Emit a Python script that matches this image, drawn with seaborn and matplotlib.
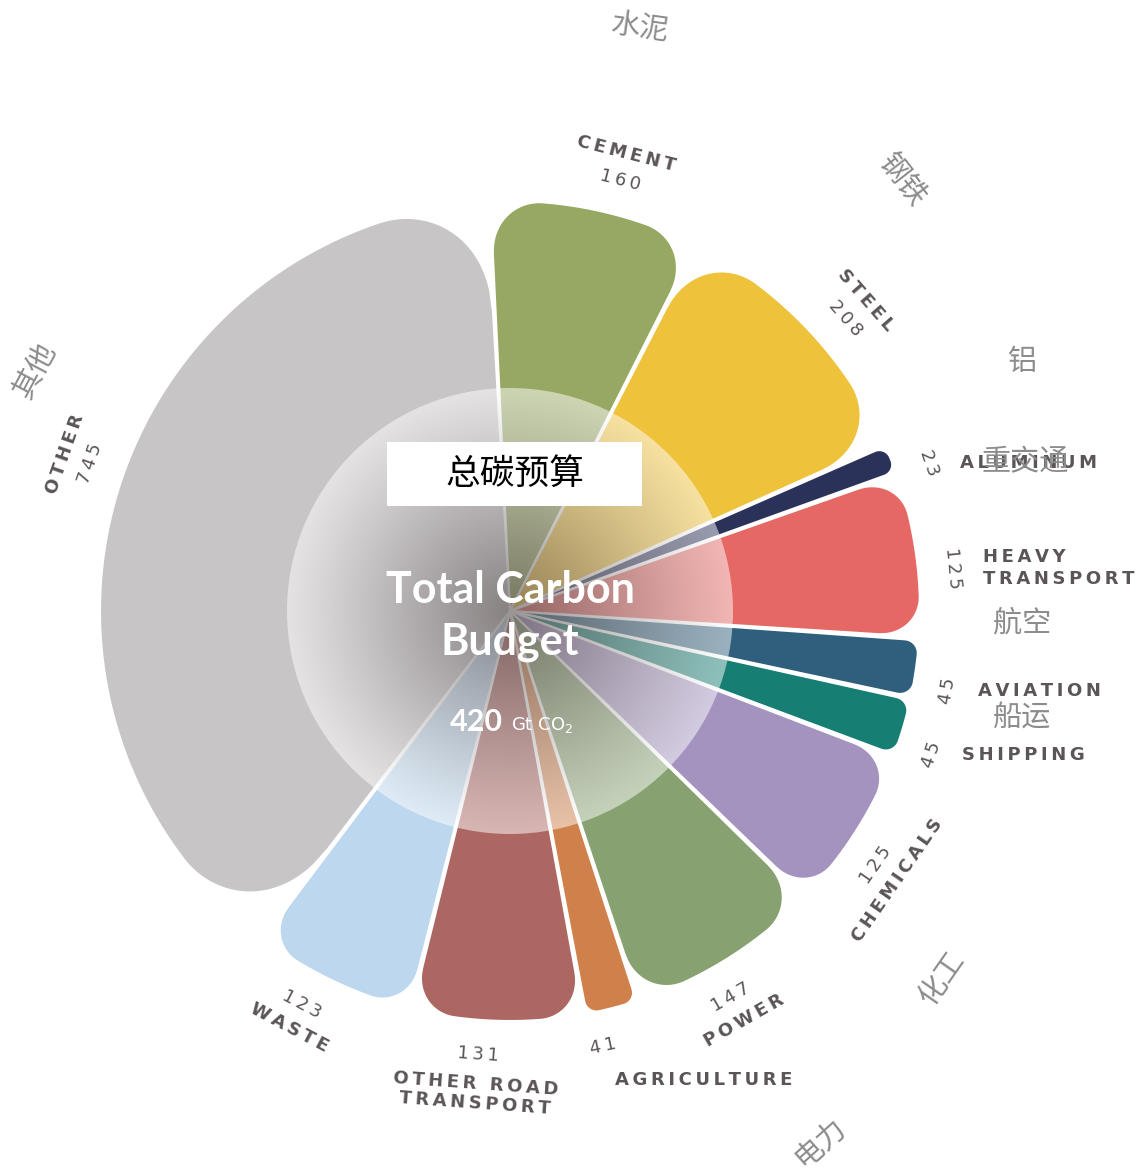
import numpy as np
import matplotlib
matplotlib.use('Agg')
from matplotlib import pyplot as plt
from matplotlib.patches import Circle, Rectangle
import seaborn as sns

sns.set_style('white')
plt.rcParams['font.family'] = ['DejaVu Sans', 'Noto Sans CJK SC']

# cumulative emissions by sector, Gt CO2 (clockwise from the top)
sectors = ['CEMENT', 'STEEL', 'ALUMINUM', 'HEAVY\nTRANSPORT', 'AVIATION', 'SHIPPING',
           'CHEMICALS', 'POWER', 'AGRICULTURE', 'OTHER ROAD\nTRANSPORT', 'WASTE', 'OTHER']
values = [160, 208, 23, 125, 45, 45, 125, 147, 41, 131, 123, 745]
colors = ['#97a862', '#efc23b', '#2b3259', '#e56864', '#2f5f7c', '#167e73',
          '#a493bf', '#87a170', '#d0804a', '#ad6763', '#bcd7ee', '#c8c5c7']
label_style = ['tangent', 'tangent', 'side', 'side', 'side', 'side',
               'tangent', 'tangent', 'below', 'tangent', 'tangent', 'tangent']
budget = 420

# chinese captions laid over the chart (offset from centre in px, rotation)
cn_labels = ['水泥', '钢铁', '铝', '重交通', '航空', '船运', '化工', '电力', '其他']
cn_pos = [(130, 583, -8), (392, 431, -52), (512, 249, 0), (515, 149, 0), (512, -12, 0),
          (512, -107, 0), (432, -367, 55), (310, -532, 42), (-475, 241, 62)]

START = 93.0
R = 410
palette = sns.color_palette(colors)


def spaced(s):
    return '\n'.join('\u2009'.join(line) for line in s.split('\n'))


def petal(a_start, a_end, gap=0.5):
    a0 = np.radians(a_start - gap / 2)
    a1 = np.radians(a_end + gap / 2)
    w = (a0 - a1) * R
    rho = min(np.clip(0.25 * w, 12, 110), w / 2)
    th = np.linspace(a0, a1, 500)
    d = np.minimum(a0 - th, th - a1) * R
    r = np.where(d < rho, R - rho + np.sqrt(np.clip(rho ** 2 - (rho - d) ** 2, 0, None)), R)
    x = np.concatenate([[0], r * np.cos(th), [0]])
    y = np.concatenate([[0], r * np.sin(th), [0]])
    return x, y


fig = plt.figure(figsize=(11.43, 11.76), dpi=100)
ax = fig.add_axes([0, 0, 1, 1])
ax.set_xlim(-510, 633)
ax.set_ylim(-565, 611)
ax.set_aspect('equal')
ax.axis('off')

deg = 360.0 / sum(values)
edges = START - np.concatenate([[0], np.cumsum(values)]) * deg
mids = (edges[:-1] + edges[1:]) / 2
mids = (mids + 180) % 360 - 180

for i, v in enumerate(values):
    x, y = petal(edges[i], edges[i + 1])
    ax.fill(x, y, color=palette[i], ec='white', lw=1.5, zorder=2)

# translucent centre disc with a dark radial shade
n = 500
g = np.linspace(-1, 1, n)
X, Y = np.meshgrid(g, g)
t = np.clip(np.sqrt(X ** 2 + Y ** 2), 0, 1)
mix = t ** 1.2
dark = np.array([0.42, 0.39, 0.39])
rgb = dark[None, None, :] * (1 - mix[..., None]) + mix[..., None]
alpha = 0.68 - 0.16 * t
img = np.dstack([rgb, alpha])
rc = 223
im = ax.imshow(img, extent=[-rc, rc, -rc, rc], origin='lower', zorder=3, interpolation='bilinear')
im.set_clip_path(Circle((0, 0), rc, transform=ax.transData))

ax.text(0, 21, 'Total Carbon', ha='center', va='center', color='white', fontsize=31,
        family='Lato', weight='bold', zorder=5)
ax.text(0, -31, 'Budget', ha='center', va='center', color='white', fontsize=31,
        family='Lato', weight='bold', zorder=5)
ax.text(-7, -111, str(budget), ha='right', va='center', color='white', fontsize=22,
        family='Lato', weight='bold', zorder=5)
ax.text(1, -114, 'Gt CO$_2$', ha='left', va='center', color='white', fontsize=13,
        zorder=5)

ax.add_patch(Rectangle((-123, 105), 255, 64, fc='white', ec='none', zorder=6))
ax.text(5, 137, '总碳预算', ha='center', va='center', color='black', fontsize=25,
        family=['Noto Sans CJK SC', 'DejaVu Sans'], zorder=7)

gray = '#5b5557'
for i, (name, v) in enumerate(zip(sectors, values)):
    a = mids[i] - 2.3
    rad = np.radians(a)
    rot = a - 90 if a > 0 else a + 90
    vx, vy = 445 * np.cos(rad), 445 * np.sin(rad)
    ax.text(vx, vy, spaced(str(v)), ha='center', va='center', rotation=rot,
            rotation_mode='anchor', color=gray, fontsize=13, zorder=5)
    if label_style[i] == 'tangent':
        rn = 472 + 12 * name.count('\n')
        ax.text(rn * np.cos(rad), rn * np.sin(rad), spaced(name), ha='center', va='center',
                rotation=rot, rotation_mode='anchor', color=gray, fontsize=13,
                weight='bold', linespacing=1.1, zorder=5)
    elif label_style[i] == 'side':
        ax.annotate(spaced(name), (vx, vy), xytext=(22, 0), textcoords='offset points',
                    ha='left', va='center', color=gray, fontsize=13, weight='bold',
                    linespacing=1.3, zorder=5)
    else:
        ax.annotate(spaced(name), (vx, vy), xytext=(9, -24), textcoords='offset points',
                    ha='left', va='center', color=gray, fontsize=13, weight='bold', zorder=5)

for txt, (dx, dy, rot) in zip(cn_labels, cn_pos):
    ax.text(dx, dy, txt, ha='center', va='center', rotation=rot, color='#8c8c8c',
            fontsize=21, family=['Noto Sans CJK SC', 'DejaVu Sans'], zorder=8)

fig.savefig('out.png', dpi=100, facecolor='white')
